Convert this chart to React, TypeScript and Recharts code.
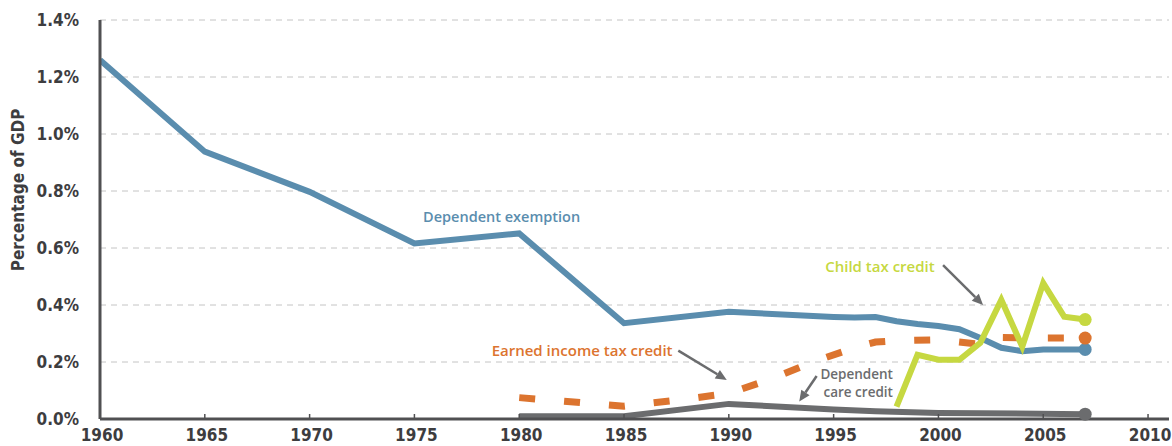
import {
  LineChart,
  Line,
  XAxis,
  YAxis,
  CartesianGrid,
  ReferenceLine,
  ReferenceDot,
} from "recharts";

// Tax benefits for children, share of GDP
const exemptionYears = [1960, 1965, 1970, 1975, 1980, 1985, 1990, 1995, 1996, 1997, 1998, 1999, 2000, 2001, 2002, 2003, 2004, 2005, 2006, 2007];
const exemptionValues = [1.26, 0.938, 0.797, 0.616, 0.651, 0.336, 0.376, 0.358, 0.356, 0.358, 0.343, 0.333, 0.326, 0.315, 0.284, 0.25, 0.238, 0.244, 0.244, 0.244];

const eitcYears = [1980, 1985, 1988, 1990, 1992, 1994, 1996, 1997, 1998, 2000, 2002, 2003, 2005, 2007];
const eitcValues = [0.075, 0.045, 0.07, 0.09, 0.14, 0.2, 0.25, 0.27, 0.275, 0.278, 0.262, 0.286, 0.284, 0.284];

const careYears = [1980, 1985, 1990, 1995, 1997, 2000, 2002, 2007];
const careValues = [0.01, 0.01, 0.053, 0.033, 0.027, 0.021, 0.02, 0.017];

const childYears = [1998, 1999, 2000, 2001, 2002, 2003, 2004, 2005, 2006, 2007];
const childValues = [0.043, 0.225, 0.208, 0.208, 0.267, 0.418, 0.254, 0.477, 0.359, 0.349];

const xTicks = [1960, 1965, 1970, 1975, 1980, 1985, 1990, 1995, 2000, 2005, 2010];
const yTicks = [0, 0.2, 0.4, 0.6, 0.8, 1.0, 1.2, 1.4];

const BLUE = "#5a8dae";
const ORANGE = "#dc742f";
const GRAY = "#6b6c6e";
const GREEN = "#c6d841";
const AXIS = "#505052";
const TICK_TEXT = "#3d3d3f";
const NARROW = "'Liberation Sans Narrow', 'DejaVu Sans Condensed', sans-serif";
const LABEL_FONT = "'Open Sans', sans-serif";

const toRows = (years: number[], values: number[]) =>
  years.map((year, i) => ({ year, value: values[i] }));

const exemption = toRows(exemptionYears, exemptionValues);
const eitc = toRows(eitcYears, eitcValues);
const care = toRows(careYears, careValues);
const child = toRows(childYears, childValues);

// only the last point of each series gets a round marker
const endDot = (color: string, count: number) => (props: any) => {
  const { cx, cy, index } = props;
  if (index !== count - 1) return <g key={`d-${index}`} />;
  return <circle key={`d-${index}`} cx={cx} cy={cy} r={6.5} fill={color} />;
};

const XTick = ({ x, y, payload }: any) => (
  <g>
    <line x1={x} x2={x} y1={y} y2={y - 5} stroke={AXIS} strokeWidth={1.5} />
    <text
      x={x + 2}
      y={y + 22}
      textAnchor="middle"
      fontFamily={NARROW}
      fontWeight="bold"
      fontSize={17}
      fill={TICK_TEXT}
    >
      {payload.value}
    </text>
  </g>
);

const YTick = ({ x, y, payload }: any) => (
  <text
    x={x - 21}
    y={y + 6}
    textAnchor="end"
    fontFamily={NARROW}
    fontWeight="bold"
    fontSize={17}
    fill={TICK_TEXT}
  >
    {payload.value.toFixed(1)}%
  </text>
);

// line with a filled arrow head at its end
const arrowShape = (props: any) => {
  const { x1, y1, x2, y2 } = props;
  const ang = Math.atan2(y2 - y1, x2 - x1);
  const len = 11;
  const half = 5;
  const bx = x2 - len * Math.cos(ang);
  const by = y2 - len * Math.sin(ang);
  const px = -Math.sin(ang) * half;
  const py = Math.cos(ang) * half;
  return (
    <g>
      <line x1={x1} y1={y1} x2={bx} y2={by} stroke={GRAY} strokeWidth={2.5} />
      <polygon
        points={`${x2},${y2} ${bx + px},${by + py} ${bx - px},${by - py}`}
        fill={GRAY}
      />
    </g>
  );
};

const note =
  (lines: string[], color: string, size: number, anchor: string = "middle") =>
  (props: any) => (
    <text
      x={props.cx}
      y={props.cy}
      textAnchor={anchor}
      fontFamily={LABEL_FONT}
      fontWeight={600}
      fontSize={size}
      fill={color}
    >
      {lines.map((line, i) => (
        <tspan key={line} x={props.cx} dy={i === 0 ? 0 : 18.5}>
          {line}
        </tspan>
      ))}
    </text>
  );

export default function App() {
  return (
    <div style={{ position: "absolute", left: 0, top: 0, background: "#fff" }}>
      <LineChart
        width={1172}
        height={446}
        margin={{ top: 20, right: 3, bottom: 0, left: 0 }}
      >
        <CartesianGrid
          vertical={false}
          stroke="#c4c4c4"
          strokeDasharray="6 5"
        />
        <XAxis
          type="number"
          dataKey="year"
          domain={[1960, 2011]}
          ticks={xTicks}
          allowDataOverflow
          height={27}
          tickSize={0}
          tickMargin={0}
          axisLine={{ stroke: AXIS, strokeWidth: 3 }}
          tick={<XTick />}
        />
        <YAxis
          type="number"
          domain={[0, 1.4]}
          ticks={yTicks}
          width={100}
          tickSize={0}
          tickMargin={0}
          axisLine={{ stroke: AXIS, strokeWidth: 3 }}
          tick={<YTick />}
          label={{
            content: () => (
              <text
                transform="rotate(-90)"
                x={-190}
                y={24}
                textAnchor="middle"
                fontFamily={NARROW}
                fontWeight="bold"
                fontSize={17}
                fill={TICK_TEXT}
              >
                Percentage of GDP
              </text>
            ),
          }}
        />
        <Line
          data={exemption}
          dataKey="value"
          stroke={BLUE}
          strokeWidth={6}
          dot={endDot(BLUE, exemption.length)}
          activeDot={false}
          isAnimationActive={false}
        />
        <Line
          data={eitc}
          dataKey="value"
          stroke={ORANGE}
          strokeWidth={7}
          strokeDasharray="16 29"
          dot={endDot(ORANGE, eitc.length)}
          activeDot={false}
          isAnimationActive={false}
        />
        <Line
          data={care}
          dataKey="value"
          stroke={GRAY}
          strokeWidth={6}
          dot={endDot(GRAY, care.length)}
          activeDot={false}
          isAnimationActive={false}
        />
        <Line
          data={child}
          dataKey="value"
          stroke={GREEN}
          strokeWidth={6}
          dot={endDot(GREEN, child.length)}
          activeDot={false}
          isAnimationActive={false}
        />

        <ReferenceLine
          segment={[{ x: 2000.22, y: 0.54 }, { x: 2002.13, y: 0.4 }]}
          shape={arrowShape}
        />
        <ReferenceLine
          segment={[{ x: 1987.59, y: 0.24 }, { x: 1989.9, y: 0.137 }]}
          shape={arrowShape}
        />
        <ReferenceLine
          segment={[{ x: 1994.19, y: 0.151 }, { x: 1993.36, y: 0.061 }]}
          shape={arrowShape}
        />

        <ReferenceDot x={1979.16} y={0.692} r={0} shape={note(["Dependent exemption"], BLUE, 14.5)} />
        <ReferenceDot x={1997.21} y={0.517} r={0} shape={note(["Child tax credit"], GREEN, 15)} />
        <ReferenceDot x={1983.0} y={0.222} r={0} shape={note(["Earned income tax credit"], ORANGE, 15)} />
        <ReferenceDot
          x={1997.83}
          y={0.142}
          r={0}
          shape={note(["Dependent", "care credit"], GRAY, 13.5, "end")}
        />
      </LineChart>
    </div>
  );
}
